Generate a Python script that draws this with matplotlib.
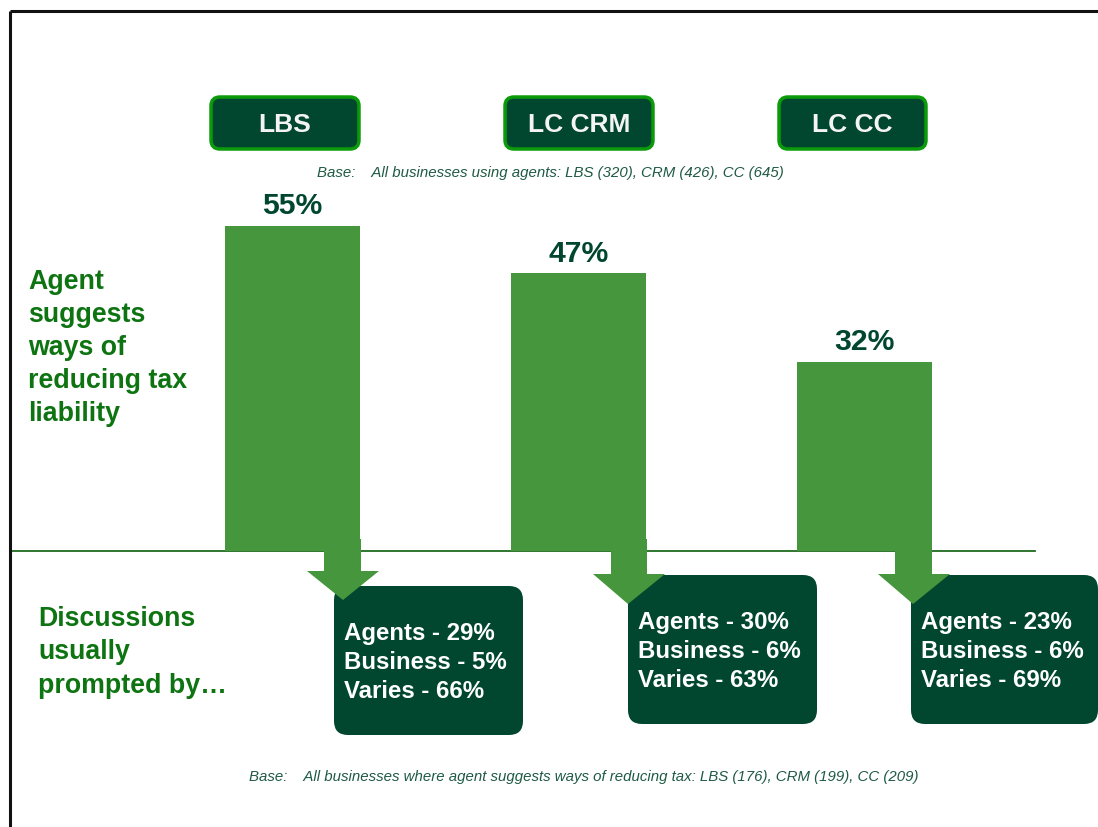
import matplotlib
matplotlib.use("Agg")
import matplotlib.pyplot as plt
from matplotlib.patches import FancyBboxPatch, Polygon

# ---- data ----
groups = ["LBS", "LC CRM", "LC CC"]
agent_suggests = [55, 47, 32]
prompted_agents = [29, 30, 23]
prompted_business = [5, 6, 6]
prompted_varies = [66, 63, 69]
left_label_top = ["Agent", "suggests", "ways of", "reducing tax", "liability"]
left_label_bottom = ["Discussions", "usually", "prompted by…"]
base_top = "Base:    All businesses using agents: LBS (320), CRM (426), CC (645)"
base_bottom = "Base:    All businesses where agent suggests ways of reducing tax: LBS (176), CRM (199), CC (209)"

# ---- style ----
BAR = "#45963C"
DARK = "#01472F"
EDGE = "#0A9A0A"
LABEL_GREEN = "#0E7412"
BASE_COL = "#1E5A44"
FONT = ["Liberation Sans", "DejaVu Sans"]

W, H = 1098, 828
fig = plt.figure(figsize=(W / 100, H / 100), dpi=100)

# bar axes: x in pixels, y in percent, baseline at pixel y=552
k = 325 / 55.0
base_px = 552
ax = fig.add_axes([0, 0, 1, 1])
ax.set_xlim(0, W)
ax.set_ylim(-(H - base_px) / k, base_px / k)
ax.axis("off")
bar_x = [292.5, 578.5, 864.5]
ax.plot([10, 1035], [0, 0], color="#1E6B1E", lw=1.3, zorder=1)
bars = ax.bar(bar_x, agent_suggests, width=135, color=BAR, zorder=2)
for b, v in zip(bars, agent_suggests):
    ax.annotate(f"{v}%", (b.get_x() + b.get_width() / 2, v), xytext=(0, 9),
                textcoords="offset points", ha="center", va="baseline",
                fontsize=21.7, fontweight="bold", color=DARK, family=FONT, zorder=3)

# decoration axes in pixel coords
d = fig.add_axes([0, 0, 1, 1])
d.set_xlim(0, W)
d.set_ylim(H, 0)
d.axis("off")
d.patch.set_alpha(0)

# border
d.plot([9.5, 9.5], [11.5, H], color="#111111", lw=2.2, solid_capstyle="butt")
d.plot([9.5, W], [11.5, 11.5], color="#111111", lw=2.2, solid_capstyle="butt")

# header boxes
hdr_x = [(211, 359), (505, 653), (779, 926)]
for (x0, x1), g in zip(hdr_x, groups):
    p = FancyBboxPatch((x0 + 8, 98 + 8), x1 - x0 - 16, 52 - 16,
                       boxstyle="round,pad=8,rounding_size=9",
                       facecolor=DARK, edgecolor=EDGE, lw=2.5, zorder=3)
    d.add_patch(p)
    d.text((x0 + x1) / 2, 125, g, ha="center", va="center", fontsize=19,
           fontweight="bold", color="#F4F4F4", family=FONT, zorder=4)

d.text(550, 173, base_top, ha="center", va="center", fontsize=10.8,
       style="italic", color=BASE_COL, family=FONT)
d.text(584, 777, base_bottom, ha="center", va="center", fontsize=10.8,
       style="italic", color=BASE_COL, family=FONT)

# left labels
for i, t in enumerate(left_label_top):
    d.text(28, 282 + 33 * i, t, ha="left", va="center", fontsize=19.3,
           fontweight="bold", color=LABEL_GREEN, family=FONT)
for i, t in enumerate(left_label_bottom):
    d.text(38, 619 + 33.5 * i, t, ha="left", va="center", fontsize=19.3,
           fontweight="bold", color=LABEL_GREEN, family=FONT)

# bottom boxes
boxes = [(334, 587, 523, 736), (628, 576, 817, 725), (911, 576, 1098, 725)]
for (x0, y0, x1, y1) in boxes:
    r = 14
    p = FancyBboxPatch((x0 + r, y0 + r), x1 - x0 - 2 * r, y1 - y0 - 2 * r,
                       boxstyle=f"round,pad={r},rounding_size={r}",
                       facecolor=DARK, edgecolor="none", zorder=3)
    d.add_patch(p)

# arrows: shaft x0,x1 ; head x0,x1 ; head top y ; tip x,y
arrows = [(324, 361, 307, 379, 572, 343, 601),
          (611, 647, 593, 665, 575, 628, 605),
          (895, 932, 878, 950, 575, 913, 605)]
for sx0, sx1, hx0, hx1, hy, tx, ty in arrows:
    poly = Polygon([(sx0, 540), (sx1, 540), (sx1, hy), (hx1, hy), (tx, ty),
                    (hx0, hy), (sx0, hy)], closed=True, facecolor=BAR,
                   edgecolor="none", zorder=5)
    d.add_patch(poly)

text_pos = [(344, 634), (638, 623), (921, 623)]
for (tx, ty), a, b, v in zip(text_pos, prompted_agents, prompted_business, prompted_varies):
    for j, line in enumerate([f"Agents - {a}%", f"Business - {b}%", f"Varies - {v}%"]):
        d.text(tx, ty + 29 * j, line, ha="left", va="center", fontsize=17.3,
               fontweight="bold", color="white", family=FONT, zorder=6)

fig.savefig("out.png", dpi=100, facecolor="white")
